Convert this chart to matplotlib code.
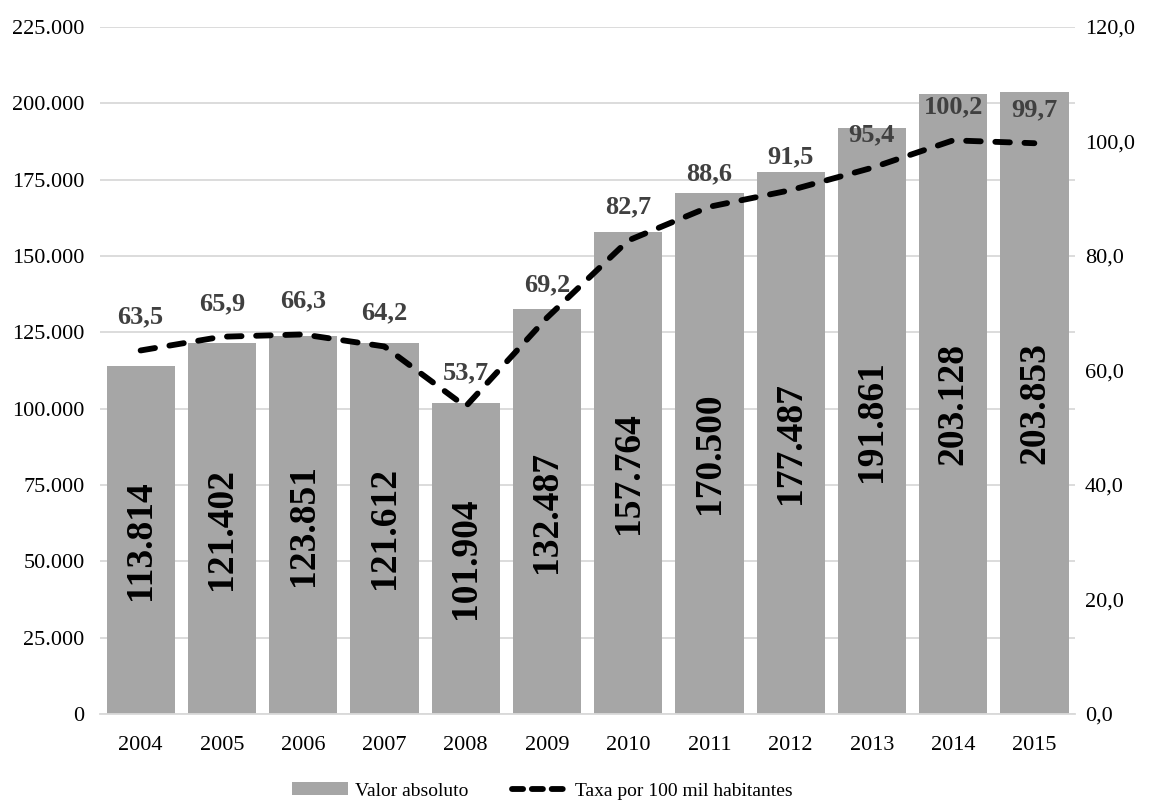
import matplotlib.pyplot as plt
from matplotlib.lines import Line2D
from matplotlib.ticker import FuncFormatter

anos = ["2004", "2005", "2006", "2007", "2008", "2009",
        "2010", "2011", "2012", "2013", "2014", "2015"]
valor_absoluto = [113814, 121402, 123851, 121612, 101904, 132487,
                  157764, 170500, 177487, 191861, 203128, 203853]
taxa = [63.5, 65.9, 66.3, 64.2, 53.7, 69.2, 82.7, 88.6, 91.5, 95.4, 100.2, 99.7]

plt.rcParams['font.family'] = ['Liberation Serif', 'DejaVu Serif']

fig = plt.figure(figsize=(11.54, 8.05), dpi=100)
ax = fig.add_axes([100 / 1154, 91 / 805, 975 / 1154, 687 / 805])
ax2 = ax.twinx()

x = list(range(len(anos)))
bars = ax.bar(x, valor_absoluto, width=0.84, color="#A6A6A6", zorder=2,
              label="Valor absoluto")
ax.set_ylim(0, 225000)
ax.set_yticks(range(0, 225001, 25000))
ax.yaxis.set_major_formatter(FuncFormatter(lambda v, p: f"{int(v):,}".replace(",", ".")))
ax.set_xlim(-0.5, len(anos) - 0.5)
ax.set_xticks(x)
ax.set_xticklabels(anos)
ax.grid(axis="y", color="#D9D9D9", linewidth=1.3, zorder=0)
ax.set_axisbelow(True)

for b, v in zip(bars, valor_absoluto):
    ax.text(b.get_x() + b.get_width() / 2, v / 2, f"{v:,}".replace(",", "."),
            rotation=90, ha="center", va="center", fontsize=27,
            fontweight="bold", color="black", zorder=3)

line, = ax2.plot(x, taxa, color="black", linewidth=4.2, linestyle=(0, (2.5, 2.5)),
                 dash_capstyle="round", zorder=4)
ax2.set_ylim(0, 120)
ax2.set_yticks(range(0, 121, 20))
ax2.yaxis.set_major_formatter(FuncFormatter(lambda v, p: f"{v:.1f}".replace(".", ",")))
for xi, t in zip(x, taxa):
    ax2.annotate(f"{t:.1f}".replace(".", ","), (xi, t), xytext=(0, 24),
                 textcoords="offset points", ha="center", va="center",
                 fontsize=19, fontweight="bold", color="#404040")

for a in (ax, ax2):
    for s in a.spines.values():
        s.set_visible(False)
    a.tick_params(length=0, labelsize=16, colors="black")
ax.spines["bottom"].set_visible(True)
ax.spines["bottom"].set_color("#D9D9D9")
ax.spines["bottom"].set_linewidth(1.3)
ax.tick_params(axis="x", pad=16)
ax.tick_params(axis="y", pad=11)
ax2.tick_params(axis="y", pad=7)
ax.set_zorder(1)
ax2.set_zorder(2)
ax2.patch.set_visible(False)

# legend uses a shorter dash pattern than the plotted line
leg_line = Line2D([], [], color="black", linewidth=4.2, linestyle=(0, (1.9, 1.5)),
                  dash_capstyle="round")
fig.legend([bars, leg_line], ["Valor absoluto", "Taxa por 100 mil habitantes"],
           loc="center", bbox_to_anchor=(0.47, 14 / 805), ncol=2, frameon=False,
           fontsize=14, handlelength=2.85, handleheight=0.6, columnspacing=2.2,
           handletextpad=0.4)

fig.savefig("out.png", dpi=100)
